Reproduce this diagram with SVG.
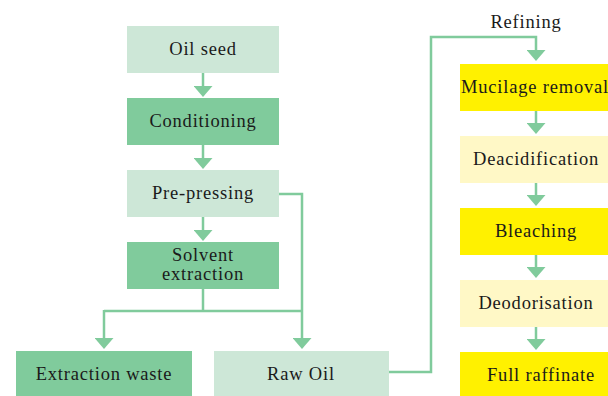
<svg xmlns="http://www.w3.org/2000/svg" width="608" height="396" viewBox="0 0 608 396">
<style>
.lg{fill:#cde7d7}
.mg{fill:#80cb9c}
.ye{fill:#fff100}
.ly{fill:#fff8c6}
.c{fill:none;stroke:#80cb9c;stroke-width:2.5}
</style>
<defs>
<marker id="ah" markerUnits="userSpaceOnUse" markerWidth="11" markerHeight="19" viewBox="0 0 11 19" refX="0" refY="9.5" orient="auto">
<path d="M0,0 L11,9.5 L0,19 Z" fill="#80cb9c"/>
</marker>
</defs>
<rect width="608" height="396" fill="#fff"/>
<g font-family="Liberation Serif" font-size="18.5" fill="#1a1a1a" text-anchor="middle" letter-spacing="0.8">
<g id="oil-seed"><rect class="lg" x="127" y="26" width="152" height="47"/><text x="203" y="55">Oil seed</text></g>
<g id="conditioning"><rect class="mg" x="127" y="98" width="152" height="47"/><text x="203" y="127">Conditioning</text></g>
<g id="pre-pressing"><rect class="lg" x="127" y="170" width="152" height="47"/><text x="203" y="199">Pre-pressing</text></g>
<g id="solvent-extraction"><rect class="mg" x="127" y="242" width="152" height="47"/><text x="203" y="261">Solvent</text><text x="203" y="280">extraction</text></g>
<g id="extraction-waste"><rect class="mg" x="16" y="351" width="176" height="47"/><text x="104" y="380">Extraction waste</text></g>
<g id="raw-oil"><rect class="lg" x="214" y="351" width="175" height="47"/><text x="301" y="380">Raw Oil</text></g>
<g id="refining"><text x="526" y="28">Refining</text></g>
<g id="mucilage-removal"><rect class="ye" x="460" y="64" width="152" height="47"/><text x="535" y="93">Mucilage removal</text></g>
<g id="deacidification"><rect class="ly" x="460" y="136" width="152" height="47"/><text x="536" y="165">Deacidification</text></g>
<g id="bleaching"><rect class="ye" x="460" y="208" width="152" height="47"/><text x="536" y="237">Bleaching</text></g>
<g id="deodorisation"><rect class="ly" x="460" y="280" width="152" height="47"/><text x="536" y="309">Deodorisation</text></g>
<g id="full-raffinate"><rect class="ye" x="460" y="352" width="152" height="47"/><text x="541" y="381">Full raffinate</text></g>
</g>
<g id="connectors">
<path class="c" d="M203,73 V86" marker-end="url(#ah)"/>
<path class="c" d="M203,145 V158" marker-end="url(#ah)"/>
<path class="c" d="M203,217 V230" marker-end="url(#ah)"/>
<path class="c" d="M203,289 V311"/>
<path class="c" d="M104,311 H302"/>
<path class="c" d="M104,310 V338" marker-end="url(#ah)"/>
<path class="c" d="M279,194 H302 V338" marker-end="url(#ah)"/>
<path class="c" d="M389,372 H431 V37 H536 V50" marker-end="url(#ah)"/>
<path class="c" d="M536,111 V123" marker-end="url(#ah)"/>
<path class="c" d="M536,183 V195" marker-end="url(#ah)"/>
<path class="c" d="M536,255 V267" marker-end="url(#ah)"/>
<path class="c" d="M536,327 V339" marker-end="url(#ah)"/>
</g>
</svg>
